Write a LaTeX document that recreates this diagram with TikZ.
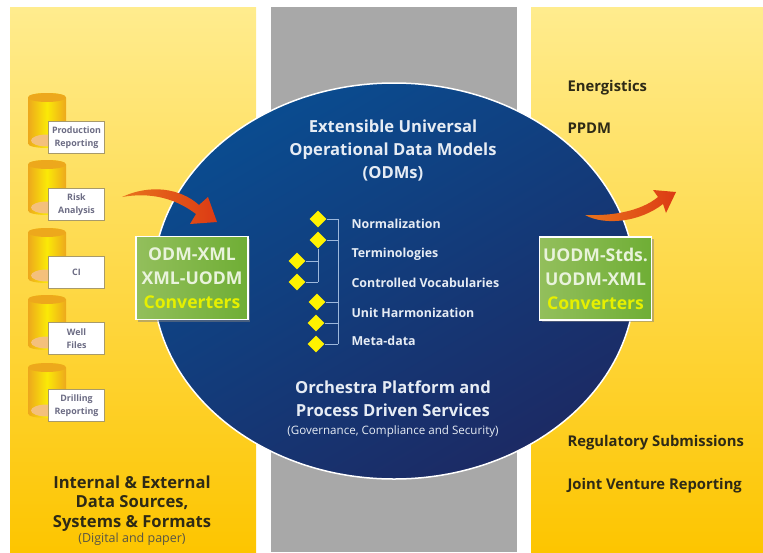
\documentclass[tikz,border=0pt]{standalone}
\usepackage{fontspec}
\setmainfont{Open Sans}
\usetikzlibrary{shapes.geometric,shadows}

\definecolor{panellight}{HTML}{FFEC8E}
\definecolor{panelmid}{HTML}{FFDB66}
\definecolor{paneldark}{HTML}{FDC500}
\definecolor{midgray}{HTML}{A8A8A8}
\definecolor{blobblue}{HTML}{0A4C90}
\definecolor{blobdark}{HTML}{1C2A64}
\definecolor{canrim}{HTML}{EDA81C}
\definecolor{canpeach}{HTML}{F4C07C}
\definecolor{boxedge}{HTML}{A89A6A}
\definecolor{boxtext}{HTML}{6C6C84}
\definecolor{convgreen}{HTML}{93BF5C}
\definecolor{convgreend}{HTML}{6FAE35}
\definecolor{convtext}{HTML}{E9F3DC}
\definecolor{convyellow}{HTML}{E6F000}
\definecolor{treeline}{HTML}{9DB8DC}
\definecolor{lighttext}{HTML}{E6ECF4}
\definecolor{darktext}{HTML}{2E2A16}
\definecolor{flowred}{HTML}{DC3A14}
\definecolor{floworange}{HTML}{E8741C}

\tikzset{
	panel/.style={draw=none,top color=panellight,middle color=panelmid,bottom color=paneldark},
	sourcecan/.pic={
		\shade[left color=canrim,right color=canrim,middle color=yellow!75!canrim]
			(-19,-23) -- (-19,23) .. controls (-19,29) and (19,29) .. (19,23) -- (19,-23) .. controls (19,-29) and (-19,-29) .. (-19,-23) -- cycle;
		\fill[canrim] (0,-23) ellipse (19pt and 4.5pt);
		\fill[canpeach] (0,20) ellipse (16pt and 6pt);
	},
	sourcebox/.style={draw=boxedge,line width=1pt,fill=white,minimum width=56pt,minimum height=32pt,inner sep=0pt,
		align=center,text=boxtext,font=\fontsize{8.9}{13.5}\selectfont\bfseries},
	converter/.style={draw=white,line width=1.5pt,left color=convgreen,right color=convgreend,
		minimum width=112pt,minimum height=83pt,inner sep=0pt,align=center,text=convtext,
		font=\fontsize{17.6}{24}\selectfont\bfseries,drop shadow={shadow xshift=2pt,shadow yshift=-2pt,opacity=0.5}},
	leaf/.style={shape=diamond,fill=yellow,minimum width=17pt,minimum height=17pt,inner sep=0pt},
	treelabel/.style={anchor=west,text=lighttext,font=\fontsize{12.4}{14}\selectfont\bfseries},
	blobtitle/.style={align=center,text=lighttext,font=\fontsize{16.6}{23}\selectfont\bfseries},
	sidelabel/.style={anchor=west,text=darktext,font=\fontsize{14.8}{16}\selectfont\bfseries},
}

\begin{document}
\begin{tikzpicture}[x=1pt,y=-1pt]
	\useasboundingbox (0,0) rectangle (763,552);

	% background columns
	\node[panel,minimum width=246pt,minimum height=545pt,inner sep=0pt] (leftpanel) at (133,279.5) {};
	\node[fill=midgray,minimum width=246pt,minimum height=545pt,inner sep=0pt] (midpanel) at (394,279.5) {};
	\node[panel,minimum width=232pt,minimum height=545pt,inner sep=0pt] (rightpanel) at (647,279.5) {};

	% central ellipse
	\node[shape=ellipse,draw=white,line width=1.5pt,top color=blobblue,bottom color=blobdark,shading angle=30,
		minimum width=482pt,minimum height=396pt,inner sep=0pt] (blob) at (394,281) {};

	% sources
	\pic at (47,120.5) {sourcecan};
	\pic at (47,187.5) {sourcecan};
	\pic at (47,255.5) {sourcecan};
	\pic at (47,322.5) {sourcecan};
	\pic at (47,390.5) {sourcecan};

	\node[sourcebox] (production) at (76.5,137.5) {Production\\Reporting};
	\node[sourcebox] (risk) at (76.5,204.5) {Risk\\Analysis};
	\node[sourcebox] (ci) at (76.5,272) {CI};
	\node[sourcebox] (well) at (76.5,338.5) {Well\\Files};
	\node[sourcebox] (drilling) at (76.5,405.5) {Drilling\\Reporting};

	% converters
	\node[converter] (odmconv) at (192,278) {ODM-XML\\XML-UODM\\\textcolor{convyellow}{Converters}};
	\node[converter] (uodmconv) at (595.5,278.5) {UODM-Stds.\\UODM-XML\\\textcolor{convyellow}{Converters}};

	% curved arrows
	\shade[left color=floworange,right color=flowred] (122,197) .. controls (150,184) and (180,188) .. (199,205) -- (208,197) -- (217,222) -- (190,224) -- (196,214) .. controls (175,198) and (150,192) .. (122,197);
	\shade[left color=floworange,right color=flowred] (585,215) .. controls (610,216) and (640,212) .. (658,197) -- (653,190) -- (676,192) -- (666,213) -- (663,204) .. controls (640,222) and (605,226) .. (585,215);

	% texts in the ellipse
	\node[blobtitle] (title) at (393,151) {Extensible Universal\\Operational Data Models\\(ODMs)};
	\node[blobtitle] (platform) at (393,399) {Orchestra Platform and\\Process Driven Services};
	\node[text=lighttext,font=\fontsize{11.6}{13}\selectfont] (scope) at (393,431) {(Governance, Compliance and Security)};

	% tree
	\node[leaf] (norm) at (318,219) {};
	\node[leaf] (term) at (318,240) {};
	\node[leaf] (vocab) at (297,261) {};
	\node[leaf] (vocabb) at (297,282) {};
	\node[leaf] (unit) at (317,302) {};
	\node[leaf] (unitb) at (316,323) {};
	\node[leaf] (meta) at (316,344) {};
	\coordinate (bustop) at (338,219);
	\coordinate (busmid) at (338,240);
	\coordinate (busu) at (338,302);
	\coordinate (busv) at (338,323);
	\coordinate (busend) at (338,344);
	\coordinate (subv) at (318,261);
	\coordinate (subend) at (318,282);

	\path[-, treeline, thick] (norm) edge (bustop);
	\path[-, treeline, thick] (term) edge (busmid);
	\path[-, treeline, thick] (unit) edge (busu);
	\path[-, treeline, thick] (unitb) edge (busv);
	\path[-, treeline, thick] (meta) edge (busend);
	\path[-, treeline, thick] (bustop) edge (busend);
	\path[-, treeline, thick] (term) edge (subend);
	\path[-, treeline, thick] (vocab) edge (subv);
	\path[-, treeline, thick] (vocabb) edge (subend);

	\node[treelabel] (normtext) at (348,224) {Normalization};
	\node[treelabel] (termtext) at (348,254) {Terminologies};
	\node[treelabel] (vocabtext) at (348,283) {Controlled Vocabularies};
	\node[treelabel] (unittext) at (348,313) {Unit Harmonization};
	\node[treelabel] (metatext) at (348,341) {Meta-data};

	% side labels
	\node[sidelabel] (energistics) at (564,87.5) {Energistics};
	\node[sidelabel] (ppdm) at (564,128) {PPDM};
	\node[sidelabel] (regulatory) at (564,442.5) {Regulatory Submissions};
	\node[sidelabel] (venture) at (564,485.5) {Joint Venture Reporting};

	\node[align=center,text=darktext,font=\fontsize{16.6}{19.5}\selectfont\bfseries] (sources) at (132,503.5) {Internal \& External\\Data Sources,\\Systems \& Formats};
	\node[text=darktext!80,font=\fontsize{12.5}{14}\selectfont] (digital) at (132,539.5) {(Digital and paper)};

\end{tikzpicture}
\end{document}
